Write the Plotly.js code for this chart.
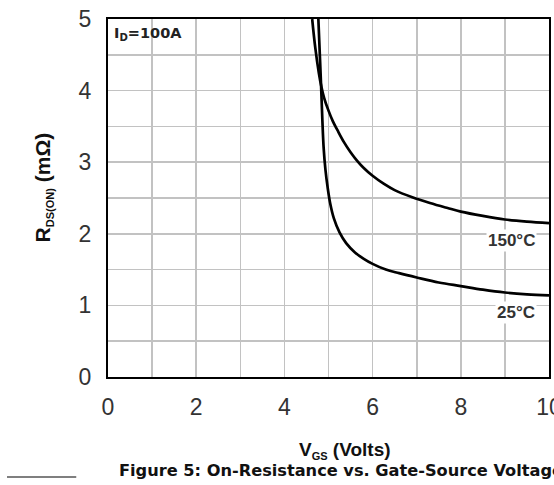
<!DOCTYPE html>
<html><head><meta charset="utf-8">
<script src="https://cdn.plot.ly/plotly-3.0.1.min.js"></script>
<style>html,body{margin:0;padding:0;background:#fff}#chart{width:554px;height:485px}</style>
</head><body><div id="chart"></div>
<script>
const vgs25 = [4.77, 4.80, 4.83, 4.86, 4.89, 4.93, 4.98, 5.04, 5.12, 5.25, 5.4, 5.6, 5.8, 6.0, 6.3, 6.6, 7.0, 7.5, 8.0, 8.5, 9.0, 9.5, 10];
const rds25 = [5.0, 4.55, 4.1, 3.6, 3.2, 2.9, 2.65, 2.42, 2.22, 2.02, 1.87, 1.74, 1.65, 1.58, 1.50, 1.45, 1.39, 1.32, 1.27, 1.22, 1.18, 1.155, 1.14];
const vgs150 = [4.63, 4.70, 4.78, 4.84, 4.90, 5.0, 5.1, 5.2, 5.35, 5.5, 5.65, 5.8, 6.0, 6.25, 6.5, 6.9, 7.3, 7.7, 8.0, 8.5, 9.0, 9.5, 10];
const rds150 = [5.0, 4.6, 4.25, 4.05, 3.90, 3.72, 3.57, 3.45, 3.28, 3.14, 3.02, 2.92, 2.81, 2.70, 2.61, 2.51, 2.43, 2.36, 2.31, 2.25, 2.20, 2.17, 2.15];
const xTicks = [0, 2, 4, 6, 8, 10];
const yTicks = [0, 1, 2, 3, 4, 5];
const curveLabels = ["25°C", "150°C"];

const lineStyle = {color: '#000', width: 2.7, shape: 'spline', smoothing: 1};
const traces = [
  {x: vgs25, y: rds25, mode: 'lines', line: lineStyle, name: curveLabels[0], hoverinfo: 'skip'},
  {x: vgs150, y: rds150, mode: 'lines', line: lineStyle, name: curveLabels[1], hoverinfo: 'skip'}
];
const gridCol = '#c2c2c2';
const lib = 'Liberation Sans, Arial, sans-serif';
const dej = 'DejaVu Sans, sans-serif';
const layout = {
  width: 554, height: 485,
  margin: {l: 108, r: 5, t: 19, b: 108},
  paper_bgcolor: '#fff', plot_bgcolor: '#fff',
  showlegend: false,
  font: {family: lib, color: '#333'},
  xaxis: {
    range: [0, 10], tickvals: xTicks, ticktext: xTicks.map(String),
    showgrid: true, gridcolor: gridCol, gridwidth: 1.6,
    minor: {dtick: 1, showgrid: true, gridcolor: gridCol, gridwidth: 1.6},
    zeroline: false, showline: true, linecolor: '#000', linewidth: 2.2, mirror: true,
    ticks: '', ticklabelstandoff: 8, ticklabeloverflow: 'allow',
    tickfont: {size: 23, color: '#333', family: lib}
  },
  yaxis: {
    range: [0, 5], tickvals: yTicks, ticktext: yTicks.map(String),
    showgrid: true, gridcolor: gridCol, gridwidth: 1.6,
    minor: {dtick: 0.5, showgrid: true, gridcolor: gridCol, gridwidth: 1.6},
    zeroline: false, showline: true, linecolor: '#000', linewidth: 2.2, mirror: true,
    ticks: '', ticklabelstandoff: 10, ticklabeloverflow: 'allow',
    tickfont: {size: 23, color: '#333', family: lib}
  },
  annotations: [
    {xref: 'paper', yref: 'paper', x: 0.009, y: 0.958, xanchor: 'left', yanchor: 'middle', showarrow: false,
     text: '<b>I<sub>D</sub>=100A</b>', font: {size: 14.5, color: '#222', family: dej}},
    {xref: 'x', yref: 'y', x: 9.14, y: 1.91, showarrow: false,
     text: '<b>' + curveLabels[1] + '</b>', font: {size: 17, color: '#333', family: lib}, bgcolor: '#fff'},
    {xref: 'x', yref: 'y', x: 9.26, y: 0.90, showarrow: false,
     text: '<b>' + curveLabels[0] + '</b>', font: {size: 17, color: '#333', family: lib}, bgcolor: '#fff'},
    {xref: 'paper', yref: 'paper', x: -0.18, y: 0.53, textangle: -90, showarrow: false,
     text: '<b>R<sub><span style="font-size:11px">DS(ON)</span></sub> (mΩ)</b>', font: {size: 21, color: '#111', family: lib}},
    {xref: 'paper', yref: 'paper', x: 0.537, y: -0.204, showarrow: false, yanchor: 'middle',
     text: '<b>V<sub><span style="font-size:11px">GS</span></sub> (Volts)</b>', font: {size: 19, color: '#111', family: lib}},
    {xref: 'paper', yref: 'paper', x: 0.02, y: -0.262, xanchor: 'left', yanchor: 'middle', showarrow: false,
     text: '<b>Figure 5: On-Resistance vs. Gate-Source Voltage</b>', font: {size: 16.2, color: '#111', family: dej}}
  ],
  shapes: [
    {type: 'line', xref: 'paper', yref: 'paper', x0: -0.229, x1: -0.072, y0: -0.279, y1: -0.279,
     line: {color: '#555', width: 1.5}}
  ]
};
Plotly.newPlot('chart', traces, layout, {displayModeBar: false, staticPlot: true});
</script></body></html>
